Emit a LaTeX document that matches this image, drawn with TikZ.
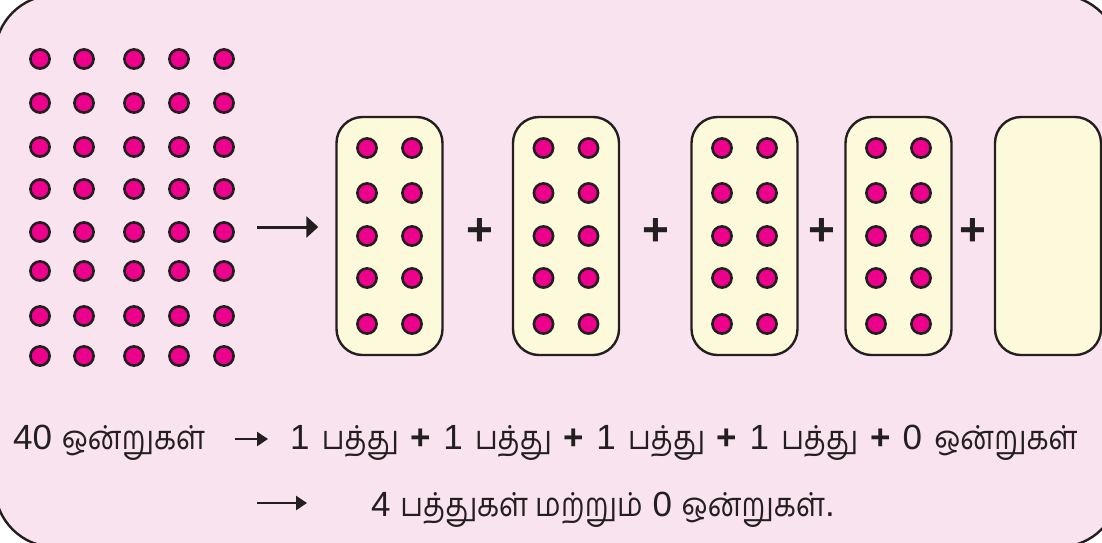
\documentclass[tikz,border=0pt]{standalone}
\usepackage{fontspec}
\setmainfont{Liberation Sans}
\newfontfamily\ta[Script=Tamil,FakeStretch=0.87]{Hind Madurai}
\usetikzlibrary{arrows.meta}
\definecolor{bgpink}{HTML}{F9E3EE}
\definecolor{boxfill}{HTML}{FDFADB}
\definecolor{dotfill}{HTML}{EC008C}
\definecolor{ink}{HTML}{231F20}
\tikzset{
  dot/.style={fill=dotfill,draw=ink,line width=2.6pt},
  tenbox/.style={draw=ink,fill=boxfill,line width=2.4pt,rounded corners=26pt,minimum width=106pt,minimum height=238pt,inner sep=0pt},
  bigplus/.style={inner sep=0pt,text=ink,font=\fontsize{46}{46}\selectfont\bfseries},
  txt/.style={inner sep=0pt,anchor=base west,text=ink,font=\fontsize{35}{40}\selectfont},
  bigarrow/.style={draw=ink,line width=3pt,-{Triangle[length=12pt,width=21pt]}},
  smallarrow/.style={draw=ink,line width=2.6pt,-{Triangle[length=11pt,width=14pt]}},
}
\newcommand{\tam}[1]{{\ta\fontsize{33}{40}\selectfont #1}}
\begin{document}
\begin{tikzpicture}[x=1pt,y=-1pt]
\useasboundingbox (0,0) rectangle (1102,542);
\clip (0,0) rectangle (1102,542);
\draw[fill=bgpink,draw=ink,line width=2.4pt,rounded corners=60pt] (-5,-5) rectangle (1119,547);
% grid of 40 dots
\foreach \x in {40,84,134,179,224}{
  \foreach \y in {59,103,147,189,232,271,316,356}{
    \draw[dot] (\x,\y) circle (9.6pt);
  }
}
% boxes of ten
\foreach \n/\cx in {1/389.5,2/566,3/744.5,4/898.5,5/1048}{
  \node[tenbox] (b\n) at (\cx,236) {};
}
\foreach \n in {1,2,3,4}{
  \foreach \dx in {-22.5,22.5}{
    \foreach \dy in {-88,-43,0,42,88}{
      \draw[dot] ([shift={(\dx,\dy)}]b\n.center) circle (9.6pt);
    }
  }
}
% plus signs
\node[bigplus] (p1) at (480,232) {+};
\node[bigplus] (p2) at (656,232) {+};
\node[bigplus] (p3) at (822,232) {+};
\node[bigplus] (p4) at (973,232) {+};
% top arrow
\coordinate (a0) at (257,227);
\draw[bigarrow,shorten >=17pt] (a0) -- (a0 -| b1.west);
% text line 1
\node[txt] (t1) at (13,449) {40 \tam{ஒன்றுகள்}};
\node[txt] (t2) at (290,449) {\spaceskip=12.2pt\relax 1 \tam{பத்து} \textbf{+} 1 \tam{பத்து} \textbf{+} 1 \tam{பத்து} \textbf{+} 1 \tam{பத்து} \textbf{+} 0 \tam{ஒன்றுகள்}};
\coordinate (l1s) at (235,439);
\draw[smallarrow,shorten >=22pt] (l1s) -- (l1s -| t2.west);
% text line 2
\coordinate (l2s) at (257,503);
\node[txt] (t3) at (371,516) {4 \tam{பத்துகள் மற்றும்} 0 \tam{ஒன்றுகள்}.};
\draw[smallarrow,shorten >=64pt] (l2s) -- (l2s -| t3.west);
\end{tikzpicture}
\end{document}
